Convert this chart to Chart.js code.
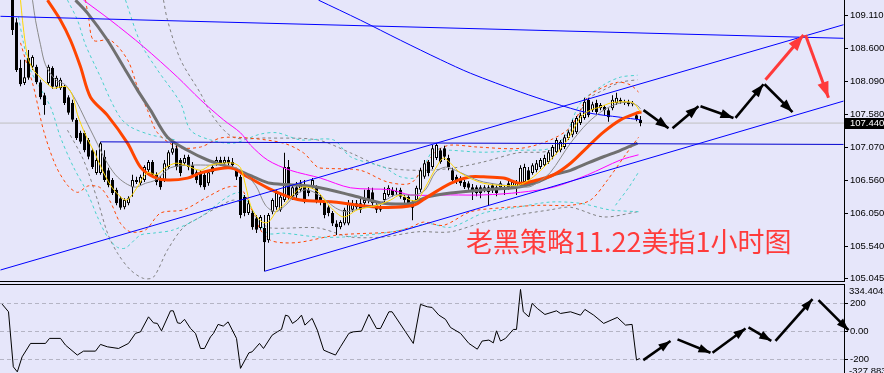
<!DOCTYPE html>
<html>
<head>
<meta charset="utf-8">
<title>美指1小时图</title>
<script src="https://cdn.jsdelivr.net/npm/chart.js@4.4.1/dist/chart.umd.min.js"></script>
<style>
  html, body { margin: 0; padding: 0; background: #e6e6fa; }
  #wrap { position: relative; width: 884px; height: 373px; overflow: hidden; }
  canvas { position: absolute; left: 0; }
  #priceChart { top: 0; }
  #cciChart { top: 285px; }
  .sep { position: absolute; left: 0; width: 845px; height: 1px; background: #000; }
</style>
</head>
<body>
<div id="wrap">
  <canvas id="priceChart" width="884" height="281"></canvas>
  <div class="sep" style="top:281px"></div>
  <div class="sep" style="top:284px"></div>
  <canvas id="cciChart" width="884" height="88"></canvas>
</div>
<script>
// ---- data (x = bar number, 0 = first visible candle) ----
const title = '老黑策略11.22美指1小时图';
const priceTicks = [109.110, 108.600, 108.090, 107.580, 107.070, 106.560, 106.050, 105.540, 105.045];
const cciTicks = [200, 0, -200];
const cciEdges = [334.4042, -327.883];
const lastPrice = 107.440;

const opens = [109.42,109.00,108.29,108.06,108.45,108.31,108.31,108.07,107.87,108.06,
  108.29,108.00,107.98,108.00,107.84,107.75,107.49,107.29,107.29,107.18,
  107.02,106.67,106.67,106.92,106.71,106.56,106.41,106.28,106.14,106.20,
  106.45,106.53,106.51,106.56,106.71,106.84,106.64,106.59,106.56,106.76,
  106.98,107.05,106.87,106.82,106.92,106.79,106.68,106.68,106.64,106.51,
  106.76,106.82,106.87,106.82,106.87,106.84,106.71,106.61,106.30,106.05,
  106.05,105.97,105.82,105.82,105.63,106.07,106.14,106.10,106.25,106.76,
  106.30,106.45,106.41,106.48,106.41,106.45,106.45,106.30,106.22,106.14,
  106.05,105.89,105.83,105.89,105.89,106.10,106.14,106.20,106.20,106.41,
  106.37,106.17,106.14,106.25,106.33,106.41,106.39,106.41,106.30,106.30,
  106.22,106.25,106.41,106.61,106.84,106.76,106.90,107.02,107.05,106.90,
  106.71,106.61,106.59,106.53,106.51,106.45,106.45,106.45,106.41,106.45,
  106.48,106.45,106.45,106.45,106.51,106.45,106.45,106.48,106.53,106.71,
  106.67,106.71,106.76,106.79,106.84,106.92,106.99,107.02,107.07,107.21,
  107.26,107.30,107.44,107.52,107.80,107.64,107.75,107.67,107.69,107.64,
  107.67,107.75,107.80,107.77,107.77,107.75,107.56,107.49];
const closes = [108.88,108.26,108.04,108.15,108.14,108.46,108.07,107.84,107.72,108.31,
  108.00,108.14,108.11,107.75,107.60,107.49,107.21,107.15,107.02,106.92,
  106.76,106.87,107.13,106.56,106.48,106.36,106.20,106.13,106.25,106.28,
  106.56,106.56,106.61,106.76,106.84,106.64,106.53,106.45,106.82,106.99,
  107.05,106.76,106.67,106.90,106.76,106.64,106.56,106.48,106.45,106.68,
  106.68,106.87,106.82,106.87,106.82,106.79,106.61,106.02,106.05,106.20,
  105.83,105.79,105.99,105.60,106.02,106.25,106.36,106.30,106.76,106.30,
  106.45,106.33,106.51,106.25,106.36,106.56,106.25,106.22,106.02,106.05,
  105.89,105.83,105.91,106.10,106.20,106.20,106.20,106.10,106.25,106.25,
  106.20,106.10,106.10,106.36,106.44,106.33,106.37,106.30,106.25,106.20,
  106.13,106.44,106.71,106.82,106.67,107.05,107.10,106.84,106.92,106.76,
  106.56,106.53,106.51,106.45,106.44,106.37,106.36,106.36,106.45,106.37,
  106.41,106.36,106.51,106.41,106.45,106.53,106.53,106.75,106.76,106.56,
  106.79,106.82,106.87,106.90,106.99,107.07,107.18,107.15,107.22,107.30,
  107.46,107.52,107.56,107.77,107.56,107.73,107.61,107.72,107.64,107.53,
  107.80,107.83,107.77,107.75,107.73,107.73,107.50,107.44];
const highs = [109.57,109.06,108.42,108.42,108.57,108.49,108.34,108.11,107.91,108.34,
  108.32,108.17,108.14,108.03,107.87,107.80,107.52,107.32,107.32,107.21,
  107.05,107.02,107.15,107.02,106.75,106.59,106.44,106.31,106.28,106.31,
  106.64,106.61,106.64,106.79,106.87,106.87,106.68,106.62,106.87,107.02,
  107.18,107.10,106.90,106.95,106.95,106.84,106.71,106.71,106.68,106.71,
  106.79,106.92,106.92,106.92,106.92,106.90,106.75,106.64,106.33,106.25,
  106.10,106.02,106.02,106.02,106.05,106.28,106.41,106.33,106.98,106.87,
  106.48,106.53,106.56,106.56,106.44,106.59,106.48,106.33,106.25,106.17,
  106.08,105.94,105.94,106.13,106.25,106.25,106.25,106.28,106.41,106.45,
  106.44,106.20,106.17,106.45,106.48,106.45,106.44,106.44,106.33,106.33,
  106.25,106.47,106.75,106.87,106.87,107.10,107.13,107.05,107.09,106.95,
  106.75,106.64,106.62,106.56,106.54,106.50,106.48,106.48,106.48,106.48,
  106.51,106.48,106.54,106.48,106.56,106.56,106.56,106.79,106.81,106.76,
  106.82,106.87,106.90,106.95,107.02,107.10,107.21,107.18,107.26,107.33,
  107.49,107.55,107.60,107.83,107.83,107.77,107.80,107.75,107.72,107.67,
  107.87,107.91,107.83,107.80,107.80,107.78,107.61,107.55];
const lows = [108.80,108.23,108.01,108.03,108.11,108.26,108.04,107.81,107.57,108.03,
  107.97,107.97,107.95,107.72,107.57,107.46,107.18,107.12,106.99,106.88,
  106.73,106.64,106.64,106.53,106.45,106.33,106.17,106.10,106.11,106.17,
  106.30,106.50,106.48,106.53,106.68,106.61,106.48,106.41,106.53,106.73,
  106.95,106.71,106.62,106.79,106.71,106.59,106.51,106.45,106.41,106.47,
  106.65,106.78,106.78,106.79,106.78,106.75,106.56,105.97,106.00,106.02,
  105.79,105.74,105.79,105.15,105.59,106.03,106.10,106.07,106.22,106.25,
  106.25,106.28,106.37,106.20,106.31,106.42,106.20,106.17,105.97,106.00,
  105.85,105.71,105.80,105.86,105.86,106.07,106.10,106.05,106.16,106.20,
  106.16,106.05,106.07,106.22,106.30,106.30,106.33,106.27,106.20,106.16,
  105.94,106.22,106.37,106.58,106.62,106.73,106.87,106.81,106.87,106.71,
  106.53,106.50,106.47,106.42,106.41,106.25,106.31,106.28,106.37,106.17,
  106.36,106.31,106.42,106.33,106.41,106.42,106.33,106.45,106.48,106.51,
  106.64,106.68,106.73,106.76,106.81,106.88,106.96,106.99,107.04,107.18,
  107.22,107.27,107.41,107.49,107.53,107.61,107.58,107.64,107.56,107.46,
  107.64,107.72,107.74,107.72,107.70,107.70,107.47,107.39];

// moving averages [bar, price]
const maYellow = [[2,109.34],[2.5,109.03],[3.25,108.65],[4,108.42],[5.25,108.26],[7,108.14],[9,108.03],[10.25,107.98],[12,108.00],[13.5,108.00],[15,107.87],[16.25,107.57],[18.25,107.26],[20.75,106.95],[22.5,106.71],[24.5,106.48],[26.5,106.33],[28.25,106.25],[29.5,106.30],[31.5,106.48],[32.75,106.61],[34,106.68],[36,106.64],[38.25,106.75],[40.75,106.82],[43.25,106.79],[47,106.71],[49.5,106.79],[52.5,106.82],[55.25,106.82],[57,106.75],[58.25,106.48],[59.5,106.17],[60.75,106.02],[62.5,105.91],[64,105.91],[66.25,106.10],[67.75,106.17],[72,106.44],[74.5,106.44],[76.5,106.37],[79.5,106.14],[82.75,105.99],[86.25,106.10],[91.25,106.17],[94.5,106.25],[97,106.33],[99.5,106.25],[101.25,106.25],[103.75,106.51],[106.25,106.79],[107.75,106.90],[109.5,106.82],[112,106.67],[117.75,106.51],[126.25,106.48],[130.25,106.61],[135.25,106.92],[138.75,107.18],[142,107.53],[144.5,107.64],[147,107.69],[149.5,107.75],[152.75,107.77],[155.25,107.75],[157,107.61]];
const maGrayThin = [[5,109.34],[5.75,109.03],[7,108.65],[8.25,108.34],[10.75,108.11],[13.25,108.03],[15.75,107.80],[18.25,107.49],[20.75,107.18],[23.25,106.87],[25.75,106.64],[28.25,106.51],[30.75,106.45],[33.25,106.51],[35.75,106.56],[39.5,106.75],[44.5,106.79],[49.5,106.79],[53.25,106.79],[57,106.71],[60.75,106.48],[63.25,106.17],[65.75,106.07],[68.25,106.17],[70.75,106.33],[73.25,106.41],[75.75,106.36],[78.25,106.25],[80.75,106.13],[83.25,106.07],[85.75,106.10],[88.25,106.14],[90.75,106.17],[93.25,106.25],[95.75,106.33],[100.75,106.33],[103.25,106.41],[105.75,106.68],[108.25,106.76],[110.75,106.71],[113.25,106.64],[117.75,106.53],[128.75,106.45],[131.25,106.52],[134.5,106.68],[139.5,107.13],[143.75,107.44],[147.75,107.64],[151.25,107.74],[154,107.76],[156.25,107.71],[157,107.66]];
const maOrange = [[8.75,109.34],[12,109.03],[14.5,108.72],[17,108.31],[19.5,107.84],[23.75,107.56],[28.75,107.13],[32,106.76],[35.25,106.61],[38.75,106.56],[43.75,106.59],[47,106.67],[52,106.74],[55.25,106.74],[58.75,106.61],[63.75,106.44],[67.75,106.33],[72,106.25],[80.25,106.22],[91.25,106.14],[100.25,106.17],[103.75,106.30],[109.5,106.51],[114.5,106.61],[117.75,106.61],[122.75,106.59],[127,106.51],[131.25,106.56],[135.25,106.64],[139.5,106.82],[143.75,107.07],[147.75,107.30],[152,107.49],[156.25,107.60],[157.25,107.61]];
const maGrayThick = [[15.75,109.34],[18.75,109.14],[23.75,108.72],[27.75,108.31],[31.25,107.95],[34.5,107.64],[38.75,107.22],[43.75,107.02],[48.75,106.87],[55.25,106.74],[60.25,106.61],[64.5,106.51],[72,106.48],[76.25,106.45],[84.5,106.33],[92.75,106.20],[97,106.19],[99.5,106.20],[103.75,106.30],[109.5,106.36],[117.75,106.41],[126.25,106.45],[131.25,106.53],[135.25,106.64],[139.5,106.71],[143.75,106.82],[147.75,106.92],[152,107.02],[156.25,107.13]];
const maMagenta = [[17.75,109.34],[24.5,109.03],[32.75,108.62],[41.25,108.15],[47,107.80],[52.75,107.49],[57,107.29],[59.5,107.10],[63.75,106.87],[69.5,106.71],[77,106.59],[84.5,106.44],[94.5,106.41],[99.5,106.33],[109.5,106.33],[117.75,106.33],[127,106.37],[135.25,106.45],[143.75,106.64],[152,106.87],[156.5,106.95]];
const maBlue = [[76.5,109.34],[87,109.03],[97,108.72],[107,108.42],[114.5,108.21],[127,107.92],[135.25,107.75],[143.75,107.60],[152,107.53],[157,107.49]];

// dashed bands [bar, price]
const bandOrangeUp = [[18.25,109.34],[19,109.08],[20.25,108.72],[24.5,108.72],[28.75,108.42],[31.25,108.00],[33.75,107.64],[36.25,107.29],[41.25,107.07],[47,107.07],[52,107.21],[58.75,107.21],[67.75,107.13],[72.75,106.98],[76.25,106.76],[78.75,106.74],[87,106.71],[93.75,106.53],[99.5,106.51],[102.75,106.76],[106.25,107.02],[109.5,107.10],[116.25,107.07],[127,107.05],[134.5,107.18],[139.5,107.38],[143.75,107.84],[146.25,107.95],[151.25,108.07],[154.5,108.03],[156.5,107.92]];
const bandOrangeLow = [[2,108.68],[5.25,108.00],[7.75,107.33],[10.75,106.79],[13.75,106.48],[16.25,106.37],[19,106.47],[22,106.44],[24.5,106.22],[27,105.89],[29.5,105.76],[33.25,105.79],[37,106.05],[42.75,106.10],[48.75,106.30],[53.75,106.45],[57,106.44],[59.5,106.14],[62,105.79],[64.5,105.63],[67.75,105.59],[72,105.60],[81.25,105.71],[95.25,105.76],[99.5,105.83],[102.75,105.91],[107.75,105.86],[114.5,106.07],[122,106.13],[132,106.17],[139.5,106.17],[144.5,106.25],[148.75,106.56],[153.25,106.95],[156.5,107.22]];
const bandCyanUp = [[28.25,109.34],[32,108.68],[36.25,108.26],[42,107.75],[44.5,107.33],[49.5,107.18],[55.25,107.13],[62,107.27],[66.25,107.29],[72,107.18],[80.25,107.18],[84.5,106.92],[92.75,106.76],[97,106.61],[101.25,106.61],[105.25,107.02],[109.5,107.02],[117.75,106.99],[127,107.02],[134.5,107.05],[138.25,107.26],[142,107.75],[147.75,108.03],[152,108.15],[156.25,108.18]];
const bandCyanUp2 = [[13.75,109.34],[16.25,109.03],[18.25,108.65],[22,108.15],[24.5,107.80],[27,107.52],[29.5,107.38],[34.5,107.26],[40.75,107.18]];
const bandCyanLow = [[1.5,109.08],[2.75,108.68],[4.5,108.26],[9.5,107.69],[12,107.22],[15.25,106.76],[18.75,106.36],[21.25,105.99],[23.75,105.68],[26.25,105.52],[28.25,105.51],[32,105.71],[35.25,105.74],[40.25,105.79],[47,105.99],[53.75,106.30],[57,106.36],[60.75,106.02],[63.75,105.74],[67.75,105.74],[76.25,105.68],[82.75,105.68],[92.75,105.74],[99.5,105.82],[103.75,105.89],[109.5,105.83],[117.75,106.05],[126.25,106.14],[134.5,106.22],[142,106.20],[149.25,106.10],[156.5,106.07]];
const bandCyanLow2 = [[150.75,106.17],[154,106.44],[156.5,106.68]];
const bandGrayUp = [[37.75,109.34],[38.75,109.03],[42,108.42],[47,107.90],[50.25,107.53],[55.25,107.22],[63.75,107.21],[76.25,107.18],[84.5,106.98],[92.75,106.76],[101.25,106.71],[109.5,106.74],[117.75,106.84],[126.25,106.98],[134.5,107.02],[139.5,107.33],[143.75,107.80],[147.75,107.95],[152,108.07],[156.25,108.11]];
const bandGrayLow = [[13.75,107.33],[17.75,106.87],[21.25,106.25],[23.75,105.74],[26.25,105.43],[29.5,105.17],[32.75,105.04],[35.25,105.06],[38.75,105.48],[42.75,105.83],[47,105.99],[51.25,106.14],[55.25,106.25],[58.25,106.17],[62,105.91],[64.5,105.82],[76.25,105.82],[84.5,105.68],[92.75,105.68],[101.25,105.76],[109.5,105.76],[117.75,105.91],[126.25,106.02],[134.5,106.10],[139.5,106.14],[147.75,105.99],[156.25,106.07]];

// trend lines and arrows [bar, price]
const lineTop = [[-3,109.09],[207.75,108.75]];
const channelUp = [[-3,105.17],[207.75,108.96]];
const channelLow = [[63,105.15],[207.75,107.78]];
const lineFlat = [[22,107.15],[207.75,107.11]];
const arrowsBlack = [
  [[157.75,107.64],[164,107.36]],
  [[165,107.36],[171.5,107.70]],
  [[172,107.70],[180.25,107.52]],
  [[180.75,107.52],[187.75,108.04]],
  [[188,108.04],[195,107.61]]
];
const arrowsRed = [
  [[188.25,108.11],[197.75,108.80]],
  [[198.25,108.80],[204,107.83]]
];

// CCI [bar, value]
const cci = [[-2.6,198],[-1,143],[0.2,-250],[1.2,-286],[2.4,-179],[4.5,-83],[8.25,-83],[9.25,-47],[12,-47],[13.25,-95],[16.2,-166],[17.75,-138],[20.75,-138],[22,-90],[23.7,-107],[26.5,-119],[29,-83],[30.75,-11],[32,0],[34,107],[35.25,64],[36.2,60],[37.25,7],[39.5,150],[40.2,150],[41.25,64],[42,60],[43,89],[44.5,24],[45.75,-11],[47,-119],[48,-119],[49.5,-36],[50.25,-11],[51.4,53],[52.7,41],[53.9,71],[56,-47],[57,-261],[59.1,-150],[59.9,-143],[61.75,-83],[62.75,-119],[64.9,-24],[66.2,0],[67.25,17],[68.25,119],[69,112],[70,60],[71.2,84],[72.25,119],[73.1,48],[74.9,96],[76.2,12],[77.8,-131],[79.1,-147],[80.75,-166],[82,-107],[84.1,-11],[85.25,0],[87.25,5],[89.1,124],[91,24],[92,24],[94.1,143],[94.9,143],[98.25,0],[100.2,-83],[102,196],[103.7,179],[104.9,174],[106.6,119],[108.25,89],[109.5,31],[112,-11],[114.1,-83],[116.2,-124],[117.4,-66],[119.1,-59],[120.2,-79],[121,7],[122,-66],[123.25,-47],[125.2,17],[126,17],[127,303],[127.7,143],[129.1,107],[129.9,203],[131.2,167],[133.1,124],[136,150],[137,131],[139.5,143],[142,119],[143.1,160],[145.3,119],[147.8,60],[151.2,103],[153.25,48],[154.9,53],[156,-202],[156.8,-190]];
const arrowsCci = [
  [[157.7,-202],[164.5,-66]],
  [[166.25,-54],[174.5,-150]],
  [[175,-150],[183.25,24]],
  [[184,31],[189.7,-64]],
  [[190.75,-64],[200,234]],
  [[201.5,226],[209,12]]
];

// ---- chart setup ----
const xMin = -3.125, xMax = 207.875;
const font = { family: '"Liberation Sans", Arial, sans-serif', size: 9.5 };
const pts = arr => arr.map(p => ({ x: p[0], y: p[1] }));

function line(data, color, width, extra) {
  return Object.assign({
    type: 'line', data: pts(data), borderColor: color, borderWidth: width,
    pointRadius: 0, tension: 0.3, fill: false
  }, extra || {});
}
const dashed = (data, color) => line(data, color, 1, { borderDash: [3, 3] });
const arrow = (data, color, width, head) => line(data, color, width, { tension: 0, head: head, clip: false });

const arrowHeads = {
  id: 'arrowHeads',
  afterDatasetsDraw(chart) {
    const ctx = chart.ctx;
    chart.data.datasets.forEach((ds, k) => {
      if (!ds.head) return;
      const p = chart.getDatasetMeta(k).data;
      const a = p[p.length - 2], b = p[p.length - 1];
      const ang = Math.atan2(b.y - a.y, b.x - a.x);
      const len = ds.head, w = ds.head * 0.36;
      const bx = b.x - len * Math.cos(ang), by = b.y - len * Math.sin(ang);
      ctx.save();
      ctx.fillStyle = ds.borderColor;
      ctx.beginPath();
      ctx.moveTo(b.x, b.y);
      ctx.lineTo(bx + w * Math.sin(ang), by - w * Math.cos(ang));
      ctx.lineTo(bx - w * Math.sin(ang), by + w * Math.cos(ang));
      ctx.closePath();
      ctx.fill();
      ctx.restore();
    });
  }
};

function yAxis(ticks, min, max, fmt, grid, dash) {
  return {
    position: 'right', min: min, max: max,
    afterFit(s) { s.width = 40; s.paddingTop = 0; s.paddingBottom = 0; },
    afterBuildTicks(s) { s.ticks = ticks.map(v => ({ value: v })); },
    ticks: { color: '#000', font: font, padding: 2, autoSkip: false, callback: fmt },
    border: { display: true, color: '#000', width: 1, dash: dash },
    grid: grid
  };
}
const xAxis = { type: 'linear', min: xMin, max: xMax, display: false, offset: false };
const common = {
  responsive: false, animation: false, events: [],
  layout: { padding: 0 },
  plugins: { legend: { display: false }, tooltip: { enabled: false } }
};

const priceLabel = {
  id: 'priceLabel',
  afterDraw(chart) {
    const ctx = chart.ctx;
    const py = Math.round(chart.scales.y.getPixelForValue(lastPrice));
    ctx.save();
    ctx.fillStyle = '#000';
    ctx.fillRect(845, py - 5, 39, 11);
    ctx.fillStyle = '#fff';
    ctx.font = '9.5px "Liberation Sans", Arial, sans-serif';
    ctx.textBaseline = 'middle';
    ctx.fillText(lastPrice.toFixed(3), 850, py + 0.5);
    ctx.fillStyle = '#ff3b3b';
    ctx.font = '27px "Noto Sans CJK SC"';
    ctx.textBaseline = 'alphabetic';
    ctx.fillText(title, 466, 252);
    ctx.restore();
  }
};

const candleBodies = {
  type: 'bar',
  data: closes.map((c, i) => ({ x: i, y: [opens[i], c] })),
  backgroundColor: closes.map((c, i) => c >= opens[i] ? '#ffffff' : '#000000'),
  borderColor: '#000', borderWidth: 1, borderSkipped: false,
  barThickness: 3, minBarLength: 1, inflateAmount: 0
};
const candleWicks = {
  type: 'bar',
  data: closes.map((c, i) => ({ x: i, y: [lows[i], highs[i]] })),
  backgroundColor: '#000', borderWidth: 0, barThickness: 1, inflateAmount: 0
};

new Chart(document.getElementById('priceChart'), {
  type: 'bar',
  data: {
    datasets: [
      ...arrowsRed.map(a => arrow(a, '#ff3a3a', 3, 16)),
      ...arrowsBlack.map(a => arrow(a, '#000', 2.6, 13)),
      line(lineTop, '#0000ff', 1, { tension: 0 }),
      line(channelUp, '#0000ff', 1, { tension: 0 }),
      line(channelLow, '#0000ff', 1, { tension: 0 }),
      line(lineFlat, '#0000cd', 1, { tension: 0 }),
      line(maYellow, '#ffd700', 1),
      line(maGrayThin, '#8a8a8a', 1),
      line(maOrange, '#ff4500', 3),
      line(maGrayThick, '#707070', 3),
      line(maMagenta, '#ff00ff', 1),
      line(maBlue, '#0000ff', 1),
      candleBodies,
      candleWicks,
      dashed(bandOrangeUp, '#ff4500'),
      dashed(bandOrangeLow, '#ff4500'),
      dashed(bandCyanUp, '#48d1cc'),
      dashed(bandCyanUp2, '#48d1cc'),
      dashed(bandCyanLow, '#48d1cc'),
      dashed(bandCyanLow2, '#48d1cc'),
      dashed(bandGrayUp, '#808080'),
      dashed(bandGrayLow, '#808080'),
      line([[xMin, lastPrice], [xMax, lastPrice]], '#c0c0c0', 1, { tension: 0 })
    ]
  },
  options: Object.assign({}, common, {
    datasets: { bar: { grouped: false } },
    scales: {
      x: xAxis,
      y: yAxis(priceTicks, 105.0, 109.342, v => v.toFixed(3),
        { drawOnChartArea: false, color: '#000', tickLength: 4 })
    }
  }),
  plugins: [arrowHeads, priceLabel]
});

const cciEdgeLabels = {
  id: 'cciEdgeLabels',
  afterDraw(chart) {
    const ctx = chart.ctx;
    ctx.save();
    ctx.fillStyle = '#000';
    ctx.font = '9.5px "Liberation Sans", Arial, sans-serif';
    ctx.textBaseline = 'middle';
    ctx.fillText(String(cciEdges[0]), 849, 6);
    ctx.fillText(String(cciEdges[1]), 849, 86);
    ctx.restore();
  }
};

new Chart(document.getElementById('cciChart'), {
  type: 'line',
  data: {
    datasets: [
      ...arrowsCci.map(a => arrow(a, '#000', 2.6, 12)),
      line(cci, '#000', 1, { tension: 0 })
    ]
  },
  options: Object.assign({}, common, {
    scales: {
      x: xAxis,
      y: yAxis(cciTicks, -294.2, 334.4042, v => v === 0 ? '0.00' : String(v),
        { drawOnChartArea: true, color: '#b4b4c4', tickColor: '#000', tickLength: 4 }, [4, 3])
    }
  }),
  plugins: [arrowHeads, cciEdgeLabels]
});
</script>
</body>
</html>
